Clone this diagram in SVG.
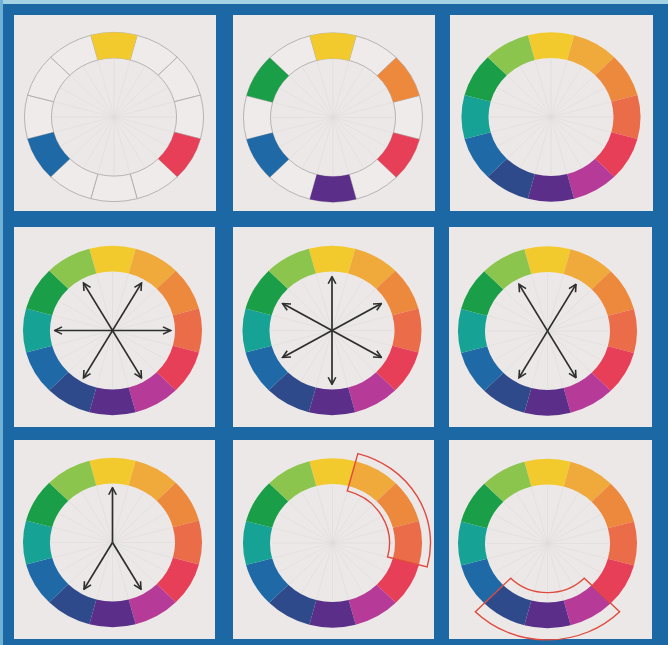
<svg xmlns="http://www.w3.org/2000/svg" xmlns:xlink="http://www.w3.org/1999/xlink" width="668" height="645" viewBox="0 0 668 645">
<style>
.panel{fill:#ebe8e7}
.spk{stroke:#dfdbda;stroke-width:0.6;fill:none}
.blank{fill:#eeebea;stroke:#aeacab;stroke-width:0.9}
.arrow{stroke:#2e2e2e;stroke-width:1.7;fill:none}
.hl{fill:none;stroke:#e04a3e;stroke-width:1.4}
.Y{fill:#f3ca2e}.YO{fill:#f0a93b}.O{fill:#ed893d}.RO{fill:#ea6c48}.R{fill:#e73f57}.RV{fill:#b63a98}
.V{fill:#5b2f89}.BV{fill:#2e4a8a}.B{fill:#1f69a7}.BG{fill:#16a295}.G{fill:#1a9e48}.YG{fill:#8cc54e}
</style>
<defs>
<marker id="ah" viewBox="0 0 10 10" refX="9" refY="5" markerWidth="10" markerHeight="10" markerUnits="userSpaceOnUse" orient="auto-start-reverse">
<path d="M1.5,1.2 L9,5 L1.5,8.8" fill="none" stroke="#2e2e2e" stroke-width="1.6"/>
</marker>
<path id="sY" d="M-23.16,-86.45 A89.5,89.5 0 0 1 23.16,-86.45 L16.18,-60.37 A62.5,62.5 0 0 0 -16.18,-60.37Z"/>
<path id="sYO" d="M23.16,-86.45 A89.5,89.5 0 0 1 63.29,-63.29 L44.19,-44.19 A62.5,62.5 0 0 0 16.18,-60.37Z"/>
<path id="sO" d="M63.29,-63.29 A89.5,89.5 0 0 1 86.45,-23.16 L60.37,-16.18 A62.5,62.5 0 0 0 44.19,-44.19Z"/>
<path id="sRO" d="M86.45,-23.16 A89.5,89.5 0 0 1 86.45,23.16 L60.37,16.18 A62.5,62.5 0 0 0 60.37,-16.18Z"/>
<path id="sR" d="M86.45,23.16 A89.5,89.5 0 0 1 63.29,63.29 L44.19,44.19 A62.5,62.5 0 0 0 60.37,16.18Z"/>
<path id="sRV" d="M63.29,63.29 A89.5,89.5 0 0 1 23.16,86.45 L16.18,60.37 A62.5,62.5 0 0 0 44.19,44.19Z"/>
<path id="sV" d="M23.16,86.45 A89.5,89.5 0 0 1 -23.16,86.45 L-16.18,60.37 A62.5,62.5 0 0 0 16.18,60.37Z"/>
<path id="sBV" d="M-23.16,86.45 A89.5,89.5 0 0 1 -63.29,63.29 L-44.19,44.19 A62.5,62.5 0 0 0 -16.18,60.37Z"/>
<path id="sB" d="M-63.29,63.29 A89.5,89.5 0 0 1 -86.45,23.16 L-60.37,16.18 A62.5,62.5 0 0 0 -44.19,44.19Z"/>
<path id="sBG" d="M-86.45,23.16 A89.5,89.5 0 0 1 -86.45,-23.16 L-60.37,-16.18 A62.5,62.5 0 0 0 -60.37,16.18Z"/>
<path id="sG" d="M-86.45,-23.16 A89.5,89.5 0 0 1 -63.29,-63.29 L-44.19,-44.19 A62.5,62.5 0 0 0 -60.37,-16.18Z"/>
<path id="sYG" d="M-63.29,-63.29 A89.5,89.5 0 0 1 -23.16,-86.45 L-16.18,-60.37 A62.5,62.5 0 0 0 -44.19,-44.19Z"/>
<path id="spokes" class="spk" d="M0,-62V62 M16.05,-59.89L-16.05,59.89 M31,-53.69L-31,53.69 M43.84,-43.84L-43.84,43.84 M53.69,-31L-53.69,31 M59.89,-16.05L-59.89,16.05 M62,0H-62 M59.89,16.05L-59.89,-16.05 M53.69,31L-53.69,-31 M43.84,43.84L-43.84,-43.84 M31,53.69L-31,-53.69 M16.05,59.89L-16.05,-59.89"/>
<g id="fullwheel">
<use href="#spokes"/>
<use href="#sY" class="Y"/><use href="#sYO" class="YO"/><use href="#sO" class="O"/><use href="#sRO" class="RO"/>
<use href="#sR" class="R"/><use href="#sRV" class="RV"/><use href="#sV" class="V"/><use href="#sBV" class="BV"/>
<use href="#sB" class="B"/><use href="#sBG" class="BG"/><use href="#sG" class="G"/><use href="#sYG" class="YG"/>
</g>
<g id="blankwheel">
<use href="#spokes"/>
<use href="#sY" class="blank"/><use href="#sYO" class="blank"/><use href="#sO" class="blank"/><use href="#sRO" class="blank"/>
<use href="#sR" class="blank"/><use href="#sRV" class="blank"/><use href="#sV" class="blank"/><use href="#sBV" class="blank"/>
<use href="#sB" class="blank"/><use href="#sBG" class="blank"/><use href="#sG" class="blank"/><use href="#sYG" class="blank"/>
</g>
</defs>

<g id="background">
<rect x="0" y="0" width="668" height="645" fill="#1b68a5"/>
<rect x="0" y="0" width="668" height="4" fill="#a3d2e2"/>
<rect x="0" y="0" width="3" height="645" fill="#6fb2d6"/>
</g>

<g id="panel-primary">
<rect class="panel" x="14" y="15" width="202" height="196"/>
<g transform="translate(114,117) scale(1,0.945)">
<use href="#blankwheel"/>
<use href="#sY" class="Y"/><use href="#sR" class="R"/><use href="#sB" class="B"/>
</g>
</g>

<g id="panel-secondary">
<rect class="panel" x="233" y="15" width="202" height="196"/>
<g transform="translate(333,117.5) scale(1,0.945)">
<use href="#blankwheel"/>
<use href="#sY" class="Y"/><use href="#sO" class="O"/><use href="#sR" class="R"/>
<use href="#sV" class="V"/><use href="#sB" class="B"/><use href="#sG" class="G"/>
</g>
</g>

<g id="panel-tertiary">
<rect class="panel" x="450" y="15" width="203" height="196"/>
<g transform="translate(551,117) scale(1,0.945)"><use href="#fullwheel"/></g>
</g>

<g id="panel-hexad-a">
<rect class="panel" x="14" y="227" width="201" height="200"/>
<g transform="translate(112.5,330.5) scale(1,0.945)"><use href="#fullwheel"/></g>
</g>

<g id="panel-hexad-b">
<rect class="panel" x="233" y="227" width="201" height="200"/>
<g transform="translate(332,330.5) scale(1,0.945)"><use href="#fullwheel"/></g>
</g>

<g id="panel-tetrad">
<rect class="panel" x="449" y="227" width="203" height="200"/>
<g transform="translate(547.5,331) scale(1,0.945)"><use href="#fullwheel"/></g>
</g>

<g id="panel-split">
<rect class="panel" x="14" y="440" width="201" height="199"/>
<g transform="translate(112.5,542.5) scale(1,0.945)"><use href="#fullwheel"/></g>
</g>

<g id="panel-analog-warm">
<rect class="panel" x="233" y="440" width="201" height="199"/>
<g transform="translate(332.5,543) scale(1,0.945)">
<use href="#fullwheel"/>
<path class="hl" d="M25.36,-94.66 A98,98 0 0 1 94.66,25.36 L55.06,14.75 A57,57 0 0 0 14.75,-55.06Z"/>
</g>
</g>

<g id="panel-analog-cool">
<rect class="panel" x="449" y="440" width="203" height="199"/>
<g transform="translate(547.5,543.5) scale(1,0.945)">
<use href="#fullwheel"/>
<path class="hl" d="M72.15,72.15 A102,102 0 0 1 -72.15,72.15 L-36.77,36.77 A52,52 0 0 0 36.77,36.77Z"/>
</g>
</g>

<g id="connectors">
<g transform="translate(112.5,330.5) scale(1,0.945)">
<path class="arrow" d="M-29,-50.23 L29,50.23" marker-start="url(#ah)" marker-end="url(#ah)"/>
<path class="arrow" d="M29,-50.23 L-29,50.23" marker-start="url(#ah)" marker-end="url(#ah)"/>
<path class="arrow" d="M-58,0 L58,0" marker-start="url(#ah)" marker-end="url(#ah)"/>
<circle cx="0" cy="0" r="1.8" fill="#2e2e2e"/>
</g>
<g transform="translate(332,330.5) scale(1,0.945)">
<path class="arrow" d="M0,-57 L0,57" marker-start="url(#ah)" marker-end="url(#ah)"/>
<path class="arrow" d="M-49.4,-28.5 L49.4,28.5" marker-start="url(#ah)" marker-end="url(#ah)"/>
<path class="arrow" d="M49.4,-28.5 L-49.4,28.5" marker-start="url(#ah)" marker-end="url(#ah)"/>
</g>
<g transform="translate(547.5,331) scale(1,0.945)">
<path class="arrow" d="M-28.5,-49.4 L28.5,49.4" marker-start="url(#ah)" marker-end="url(#ah)"/>
<path class="arrow" d="M28.5,-49.4 L-28.5,49.4" marker-start="url(#ah)" marker-end="url(#ah)"/>
</g>
<g transform="translate(112.5,542.5) scale(1,0.945)">
<path class="arrow" d="M0,0 L0,-58" marker-end="url(#ah)"/>
<path class="arrow" d="M0,0 L-28.5,49.4" marker-end="url(#ah)"/>
<path class="arrow" d="M0,0 L28.5,49.4" marker-end="url(#ah)"/>
</g>
</g>
</svg>
